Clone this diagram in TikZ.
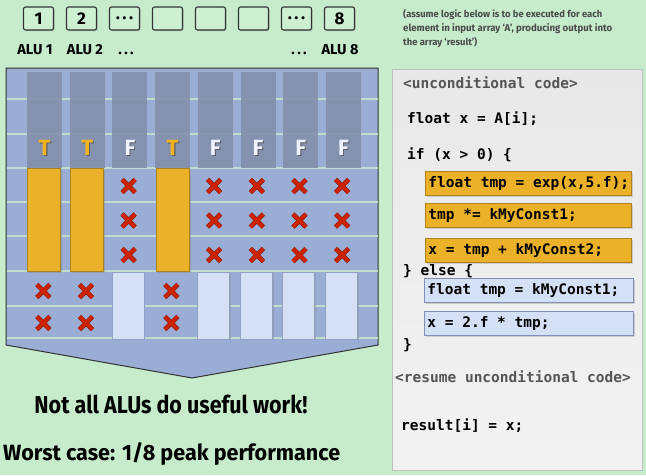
\documentclass[tikz,border=0pt]{standalone}
\usepackage{fontspec}
\setmainfont{Fira Sans}
\newfontfamily\codefont{DejaVu Sans Mono}
\usetikzlibrary{shapes.misc,shadows}
\newcommand\aludots{.\kern2.5pt.\kern2.5pt.}
\definecolor{bg}{HTML}{C6ECCB}
\definecolor{alufill}{HTML}{CDEFD2}
\definecolor{boxline}{HTML}{333333}
\definecolor{panel}{HTML}{9AAED5}
\definecolor{colgrey}{HTML}{8290AC}
\definecolor{rowline}{HTML}{C0DCCC}
\definecolor{orangebar}{HTML}{EBB128}
\definecolor{orangeedge}{HTML}{B08020}
\definecolor{bluebar}{HTML}{D5E0F5}
\definecolor{blueedge}{HTML}{8FA0C4}
\definecolor{xred}{HTML}{CC2200}
\definecolor{xdark}{HTML}{801500}
\definecolor{tcol}{HTML}{F2B320}
\definecolor{fcol}{HTML}{EEF3FF}
\definecolor{notegrey}{HTML}{4A4A4A}
\definecolor{codegrey}{HTML}{555555}
\definecolor{cboxblue}{HTML}{D4E0F6}
\definecolor{cboxblueedge}{HTML}{7F8FB8}
\tikzset{
  alubox/.style={draw=boxline, fill=alufill, rounded corners=2pt, line width=1.1pt,
    minimum width=30pt, minimum height=23pt, inner sep=0pt,
    font=\bfseries\fontsize{17}{17}\selectfont,
    drop shadow={shadow xshift=1.2pt, shadow yshift=-1.2pt, opacity=0.35}},
  alulabel/.style={font=\bfseries\fontsize{14.5}{14.5}\selectfont, inner sep=0pt, anchor=base},
  greycol/.style={fill=colgrey, fill opacity=0.9, draw=none, minimum width=35pt, minimum height=96pt, inner sep=0pt, anchor=north},
  obar/.style={fill=orangebar, draw=orangeedge, line width=0.6pt, minimum width=33pt, minimum height=103pt, inner sep=0pt, anchor=north,
    drop shadow={shadow xshift=1.5pt, shadow yshift=-1.5pt, opacity=0.35}},
  bbar/.style={fill=bluebar, draw=blueedge, line width=0.6pt, minimum width=32pt, minimum height=67pt, inner sep=0pt, anchor=north,
    drop shadow={shadow xshift=1.5pt, shadow yshift=-1.5pt, opacity=0.35}},
  xmark/.style={cross out, draw=xdark, double=xred, double distance=3.6pt, line width=0.5pt, minimum size=12.5pt, inner sep=0pt},
  tf/.style={font=\bfseries\fontsize{22}{22}\selectfont, inner sep=0pt},
  tfshadow/.style={font=\bfseries\fontsize{22}{22}\selectfont, inner sep=0pt, text=black!70, opacity=0.7},
  note/.style={font=\bfseries\fontsize{11}{11}\selectfont, text=notegrey, inner sep=0pt, anchor=base west},
  code/.style={font=\codefont\bfseries\fontsize{14.5}{14.5}\selectfont, inner sep=0pt, anchor=base west},
  codec/.style={code, text=codegrey},
  obox/.style={code, anchor=north west, fill=orangebar, draw=orangeedge, line width=0.8pt, minimum width=206pt, minimum height=24pt,
    inner xsep=3pt, drop shadow={shadow xshift=1.2pt, shadow yshift=-1.2pt, opacity=0.3}},
  bbox/.style={obox, fill=cboxblue, draw=cboxblueedge, minimum width=209pt},
  bigtext/.style={inner sep=0pt, anchor=base},
}
\begin{document}
\begin{tikzpicture}[x=1pt,y=-1pt]
\useasboundingbox (0,0) rectangle (646,475);
\fill[bg] (0,0) rectangle (646,475);

% ALU boxes
\foreach \i/\t in {1/1,2/2,3/\aludots,4/{},5/{},6/{},7/\aludots,8/8}{
  \node[alubox] (alu\i) at ({38.5+43*(\i-1)},18.5) {\t};
}
\node[alulabel] (l1) at (35,54) {ALU 1};
\node[alulabel] (l2) at (85,54) {ALU 2};
\node[alulabel] (l3) at (126,54) {\aludots};
\node[alulabel] (l7) at (299,54) {\aludots};
\node[alulabel] (l8) at (340,54) {ALU 8};

% note
\node[note] (n1) at (403,17) {\resizebox{199pt}{8.2pt}{(assume logic below is to be executed for each}};
\node[note] (n2) at (403,31) {\resizebox{209pt}{8pt}{element in input array ‘A’, producing output into}};
\node[note] (n3) at (403,45) {\resizebox{74pt}{8.2pt}{the array ‘result’)}};

% main panel
\draw[fill=panel, draw=boxline, line width=1pt] (6,68) -- (378,68) -- (378,345) -- (192,378) -- (6,345) -- cycle;
\foreach \y in {99,134,168,202,236,271,306,338}{
  \draw[rowline, line width=1.6pt] (6.5,\y) -- (377.5,\y);
}
\foreach \i in {1,...,8}{
  \node[greycol] (g\i) at ({44.5+42.7*(\i-1)},72) {};
}
% T/F
\foreach \i/\t in {1/T,2/T,3/F,4/T,5/F,6/F,7/F,8/F}{
  \node[tfshadow] (ts\i) at ({45.7+42.7*(\i-1)},149.2) {\t};
}
\foreach \i/\t/\c in {1/T/tcol,2/T/tcol,3/F/fcol,4/T/tcol,5/F/fcol,6/F/fcol,7/F/fcol,8/F/fcol}{
  \node[tf, text=\c] (t\i) at ({44.5+42.7*(\i-1)},148) {\t};
}
% orange bars
\node[obar] (o1) at (44,168) {};
\node[obar] (o2) at (87,168) {};
\node[obar] (o4) at (172.5,168) {};
% blue bars
\foreach \i in {3,5,6,7,8}{
  \node[bbar] (b\i) at ({42.5+42.7*(\i-1)},271.5) {};
}
% crosses
\foreach \i in {3,5,6,7,8}{
  \foreach \r/\y in {1/186,2/220.5,3/255}{
    \node[xmark] (x\i\r) at ({43.3+42.7*(\i-1)},\y) {};
  }
}
\foreach \i in {1,2,4}{
  \foreach \r/\y in {4/291,5/323}{
    \node[xmark] (x\i\r) at ({43.3+42.7*(\i-1)},\y) {};
  }
}

% bottom text
\node[bigtext] (msg1) at (171,413) {\resizebox{273pt}{18.5pt}{\bfseries Not all ALUs do useful work!}};
\node[bigtext, anchor=base west] (msg2) at (3,460) {\resizebox{337pt}{18pt}{\bfseries Worst case: 1/8 peak performance}};

% code panel
\node[anchor=north west, minimum width=250pt, minimum height=401pt, inner sep=0pt, draw=black!25, line width=0.8pt,
  top color=black!9, bottom color=black!5] (codepanel) at (392,69) {};
\node[codec] (c1) at (403,88) {<unconditional code>};
\node[code] (c2) at (407,123) {float x = A[i];};
\node[code] (c3) at (407,159) {if (x > 0) \{};
\node[obox] (ob1) at (425,171) {\makebox[200pt][l]{float tmp = exp(x,5.f);}};
\node[obox] (ob2) at (425,203) {\makebox[200pt][l]{tmp *= kMyConst1;}};
\node[obox] (ob3) at (425,238) {\makebox[200pt][l]{x = tmp + kMyConst2;}};
\node[code] (c4) at (403,275) {\} else \{};
\node[bbox] (bb1) at (424,278) {\makebox[203pt][l]{float tmp = kMyConst1;}};
\node[bbox] (bb2) at (424,311) {\makebox[203pt][l]{x = 2.f * tmp;}};
\node[code] (c5) at (403,349) {\}};
\node[codec] (c6) at (395,382) {<resume unconditional code>};
\node[code] (c7) at (401,430) {result[i] = x;};
\end{tikzpicture}
\end{document}
